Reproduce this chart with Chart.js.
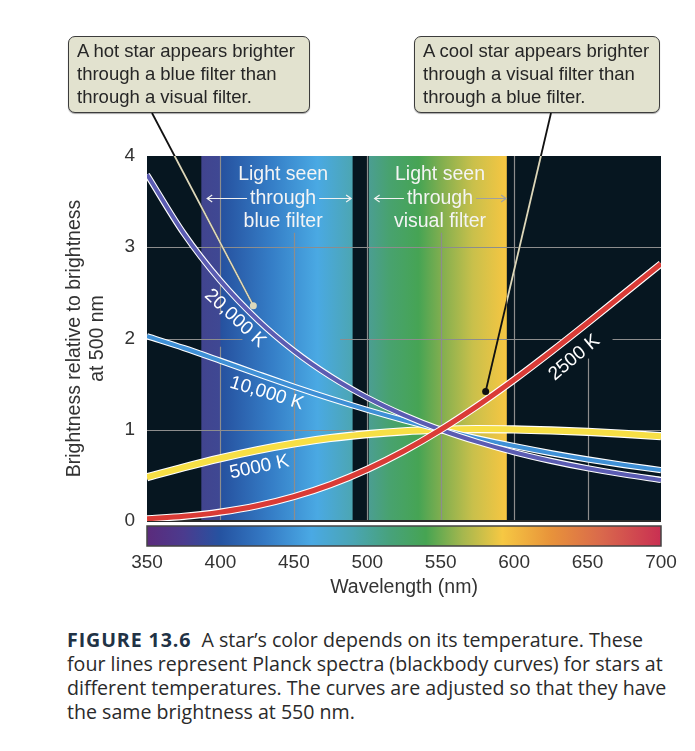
<!DOCTYPE html>
<html>
<head>
<meta charset="utf-8">
<title>Planck spectra through blue and visual filters</title>
<script src="https://cdn.jsdelivr.net/npm/chart.js@4.4.0/dist/chart.umd.min.js"></script>
<style>
  body { margin: 0; background: #fff; }
  #page { position: relative; width: 695px; height: 751px; overflow: hidden; }
  #chart { position: absolute; left: 0; top: 0; }
  .callout {
    position: absolute; box-sizing: border-box; height: 77px;
    padding: 2px 0 0 8px; background: #e2e2cf;
    border: 1.5px solid #3c3c3c; border-radius: 7px;
    box-shadow: 0 1px 1px rgba(0, 0, 0, .35);
    font: 18.5px/23px "Liberation Sans", Arial, sans-serif; color: #262626;
    white-space: nowrap;
  }
  #caption {
    position: absolute; left: 67px; top: 628px; white-space: nowrap;
    font: 19.6px/24px "Open Sans", "Noto Sans", sans-serif; color: #2a2a2a;
  }
  #caption b { letter-spacing: 0.9px; color: #213245; }
</style>
</head>
<body>
<div id="page">
  <canvas id="chart" width="695" height="620"></canvas>
  <div class="callout" style="left:68px;top:36px;width:242px">A hot star appears brighter<br>through a blue filter than<br>through a visual filter.</div>
  <div class="callout" style="left:414px;top:36px;width:246px">A cool star appears brighter<br>through a visual filter than<br>through a blue filter.</div>
  <div id="caption"><b>FIGURE 13.6</b>&nbsp; A star’s color depends on its temperature. These<br>four lines represent Planck spectra (blackbody curves) for stars at<br>different temperatures. The curves are adjusted so that they have<br>the same brightness at 550 nm.</div>
</div>
<script>
// values (brightness relative to the value at 550 nm)
const wavelengths = [350, 375, 400, 425, 450, 475, 500, 525, 550, 575, 600, 625, 650, 675, 700];
const k20000 = [3.797, 3.153, 2.632, 2.209, 1.865, 1.584, 1.352, 1.160, 1.000, 0.867, 0.754, 0.659, 0.578, 0.509, 0.450];
const k10000 = [2.025, 1.896, 1.756, 1.613, 1.473, 1.341, 1.218, 1.104, 1.000, 0.906, 0.821, 0.744, 0.675, 0.613, 0.558];
const k5000 = [0.480, 0.588, 0.688, 0.776, 0.850, 0.909, 0.952, 0.983, 1.000, 1.007, 1.004, 0.993, 0.977, 0.955, 0.929];
const k2500 = [0.024, 0.051, 0.097, 0.167, 0.267, 0.399, 0.566, 0.767, 1.000, 1.262, 1.548, 1.853, 2.170, 2.495, 2.819];

const curves = [
  { label: "2500 K", values: k2500, color: "#da3b36", width: 5 },
  { label: "20,000 K", values: k20000, color: "#5b5cb2", width: 4 },
  { label: "10,000 K", values: k10000, color: "#3f90d6", width: 4 },
  { label: "5000 K", values: k5000, color: "#f7df45", width: 6 },
];

// where each curve name sits (nm, brightness) and its tilt in degrees
const curveLabels = [
  { text: "20,000 K", x: 410, y: 2.22, angle: 43 },
  { text: "10,000 K", x: 431.5, y: 1.4, angle: 17 },
  { text: "5000 K", x: 426.5, y: 0.59, angle: -12 },
  { text: "2500 K", x: 641, y: 1.79, angle: -40 },
];

const dark = "#061620";
const spectrumStops = [
  [350, "#5b2b7c"], [375, "#4b3b8e"], [400, "#2553a1"], [430, "#3479c4"],
  [462, "#4aa9e4"], [490, "#4aa5b4"], [515, "#47a27c"], [540, "#46a452"],
  [565, "#a5b74e"], [592, "#f6c843"], [625, "#e8933a"], [660, "#d9684c"], [700, "#c92f52"],
];
const bands = [
  {
    stops: [[387, "#41448e"], [399.6, "#3f4893"], [400.4, "#26519f"], [435, "#357ec7"], [466, "#4aa9e3"], [490, "#4ca6b3"]],
    text: ["Light seen", "through", "blue filter"], center: 442.7,
    arrow: [391, 489], arrowColors: ["#f2f2f2", "#f2f2f2"],
  },
  {
    stops: [[501, "#4b9e92"], [515, "#48a26f"], [535, "#46a454"], [550, "#7fae4f"], [572, "#c9c04b"], [595, "#f7c642"]],
    text: ["Light seen", "through", "visual filter"], center: 549.5,
    arrow: [505, 594.5], arrowColors: ["#f2f2f2", "#a0a0a0"],
  },
];

// pieces of grid line left out around the labels
const xGridGaps = { 400: [[1.91, 2.27]], 450: [[3.16, 4]], 550: [[3.16, 4]], 650: [[1.78, 4]] };
const yGridGaps = { 2: [[415, 481.5], [632, 667]] };

// callout leaders: start under the box (px), end at a point on the chart (nm, brightness)
const leaders = [
  { from: [152, 113], to: { x: 422.4, y: 2.36 }, dot: "#dcd8bb", lightFrom: 350 },
  { from: [551, 113], to: { x: 580.6, y: 1.42 }, dot: "#111", lightFrom: 595 },
];

const font = '"Liberation Sans", Arial, sans-serif';
Chart.defaults.font.family = font;

function gradientFor(ctx, xs, stops) {
  const a = stops[0][0], b = stops[stops.length - 1][0];
  const g = ctx.createLinearGradient(xs.getPixelForValue(a), 0, xs.getPixelForValue(b), 0);
  stops.forEach(([nm, c]) => g.addColorStop((nm - a) / (b - a), c));
  return g;
}

function segments(lo, hi, gaps) {
  let segs = [[lo, hi]];
  (gaps || []).forEach(([g0, g1]) => {
    segs = segs.flatMap(([s0, s1]) => {
      const out = [];
      if (g0 > s0) out.push([s0, Math.min(s1, g0)]);
      if (g1 < s1) out.push([Math.max(s0, g1), s1]);
      return out.filter(([p, q]) => q > p);
    });
  });
  return segs;
}

function arrow(ctx, x1, x2, y, head, color) {
  ctx.strokeStyle = color;
  ctx.lineWidth = 1.2;
  ctx.beginPath();
  ctx.moveTo(x1, y);
  ctx.lineTo(x2, y);
  const tip = head === "left" ? x1 : x2;
  const d = head === "left" ? 5 : -5;
  ctx.moveTo(tip + d, y - 3.5);
  ctx.lineTo(tip, y);
  ctx.lineTo(tip + d, y + 3.5);
  ctx.stroke();
}

const backdrop = {
  id: "backdrop",
  beforeDatasetsDraw(chart) {
    const { ctx, chartArea: a, scales: { x, y } } = chart;
    ctx.save();
    ctx.fillStyle = dark;
    ctx.fillRect(a.left, a.top, a.width, a.height);
    bands.forEach((b) => {
      const l = x.getPixelForValue(b.stops[0][0]);
      const r = x.getPixelForValue(b.stops[b.stops.length - 1][0]);
      ctx.fillStyle = gradientFor(ctx, x, b.stops);
      ctx.fillRect(l, a.top, r - l, a.height);
    });

    ctx.strokeStyle = "#8d8d8d";
    ctx.lineWidth = 1.2;
    x.ticks.forEach((t) => {
      if (t.value <= x.min || t.value >= x.max) return;
      const p = Math.round(x.getPixelForValue(t.value)) + 0.5;
      segments(y.min, y.max, xGridGaps[t.value]).forEach(([v0, v1]) => {
        ctx.beginPath();
        ctx.moveTo(p, y.getPixelForValue(v0));
        ctx.lineTo(p, y.getPixelForValue(v1));
        ctx.stroke();
      });
    });
    y.ticks.forEach((t) => {
      if (t.value <= y.min || t.value >= y.max) return;
      const p = Math.round(y.getPixelForValue(t.value)) + 0.5;
      segments(x.min, x.max, yGridGaps[t.value]).forEach(([v0, v1]) => {
        ctx.beginPath();
        ctx.moveTo(x.getPixelForValue(v0), p);
        ctx.lineTo(x.getPixelForValue(v1), p);
        ctx.stroke();
      });
    });

    ctx.strokeStyle = "#2b2b2b";
    ctx.lineWidth = 2;
    ctx.beginPath();
    ctx.moveTo(a.left, a.bottom);
    ctx.lineTo(a.right, a.bottom);
    ctx.stroke();

    // spectrum strip under the plot
    const top = a.bottom + 5, h = 20;
    ctx.fillStyle = gradientFor(ctx, x, spectrumStops);
    ctx.fillRect(a.left, top, a.width, h);
    ctx.strokeStyle = "#444";
    ctx.lineWidth = 1.5;
    ctx.strokeRect(a.left, top, a.width, h);
    ctx.restore();
  },
};

const overlay = {
  id: "overlay",
  afterDatasetsDraw(chart) {
    const { ctx, chartArea: a, scales: { x, y } } = chart;
    ctx.save();
    ctx.font = "19.5px " + font;
    ctx.textAlign = "center";
    ctx.textBaseline = "middle";
    bands.forEach((b) => {
      const cx = x.getPixelForValue(b.center);
      ctx.fillStyle = "#f4f4f4";
      b.text.forEach((line, i) => ctx.fillText(line, cx, a.top + 19 + i * 23.3));
      const w = ctx.measureText(b.text[1]).width / 2 + 3;
      const ay = Math.round(a.top + 42.3) + 0.5;
      arrow(ctx, x.getPixelForValue(b.arrow[0]), cx - w, ay, "left", b.arrowColors[0]);
      arrow(ctx, cx + w, x.getPixelForValue(b.arrow[1]), ay, "right", b.arrowColors[1]);
    });

    ctx.font = "19px " + font;
    ctx.fillStyle = "#fff";
    curveLabels.forEach((l) => {
      ctx.save();
      ctx.translate(x.getPixelForValue(l.x), y.getPixelForValue(l.y));
      ctx.rotate((l.angle * Math.PI) / 180);
      ctx.fillText(l.text, 0, 0);
      ctx.restore();
    });

    leaders.forEach((l) => {
      const ex = x.getPixelForValue(l.to.x), ey = y.getPixelForValue(l.to.y);
      ctx.lineWidth = 1.8;
      ctx.strokeStyle = "#111";
      ctx.beginPath();
      ctx.moveTo(l.from[0], l.from[1]);
      ctx.lineTo(ex, ey);
      ctx.stroke();
      ctx.save();
      const lx = x.getPixelForValue(l.lightFrom);
      ctx.beginPath();
      ctx.rect(lx, a.top, a.right - lx, a.height);
      ctx.clip();
      ctx.strokeStyle = "#dcd8bb";
      ctx.beginPath();
      ctx.moveTo(l.from[0], l.from[1]);
      ctx.lineTo(ex, ey);
      ctx.stroke();
      ctx.restore();
      ctx.fillStyle = l.dot;
      ctx.beginPath();
      ctx.arc(ex, ey, 3.5, 0, Math.PI * 2);
      ctx.fill();
    });
    ctx.restore();
  },
};

const datasets = curves.flatMap((c, i) => {
  const pts = wavelengths.map((w, j) => ({ x: w, y: c.values[j] }));
  return [
    { label: c.label, data: pts, borderColor: c.color, borderWidth: c.width, order: 2 * i },
    { label: c.label + " edge", data: pts, borderColor: "#fff", borderWidth: c.width + 2.2, order: 2 * i + 1 },
  ];
});

new Chart(document.getElementById("chart"), {
  type: "line",
  data: { datasets },
  options: {
    responsive: false,
    animation: false,
    devicePixelRatio: 1,
    layout: { padding: { top: 156, right: 34, left: 0, bottom: 0 } },
    plugins: { legend: { display: false }, tooltip: { enabled: false } },
    elements: {
      point: { radius: 0 },
      line: { cubicInterpolationMode: "monotone", fill: false },
    },
    scales: {
      x: {
        type: "linear",
        min: 350,
        max: 700,
        grid: { display: false, drawTicks: false },
        border: { display: false },
        ticks: { stepSize: 50, padding: 30, maxRotation: 0, color: "#333", font: { size: 19 } },
        title: { display: true, text: "Wavelength (nm)", color: "#333", font: { size: 19.5 }, padding: { top: 0, bottom: 21 } },
        afterFit(s) {
          s.height = 99;
          s.paddingLeft = 0;
          s.paddingRight = 0;
        },
      },
      y: {
        min: 0,
        max: 4,
        grid: { display: false, drawTicks: false },
        border: { display: false },
        ticks: { stepSize: 1, padding: 12, color: "#333", font: { size: 19 } },
        title: {
          display: true,
          text: ["Brightness relative to brightness", "at 500 nm"],
          color: "#333",
          font: { size: 19.5, lineHeight: 1.2 },
          padding: { top: 63, bottom: 0 },
        },
        afterFit(s) {
          s.width = 147;
          s.paddingTop = 0;
          s.paddingBottom = 0;
        },
      },
    },
  },
  plugins: [backdrop, overlay],
});
</script>
</body>
</html>
